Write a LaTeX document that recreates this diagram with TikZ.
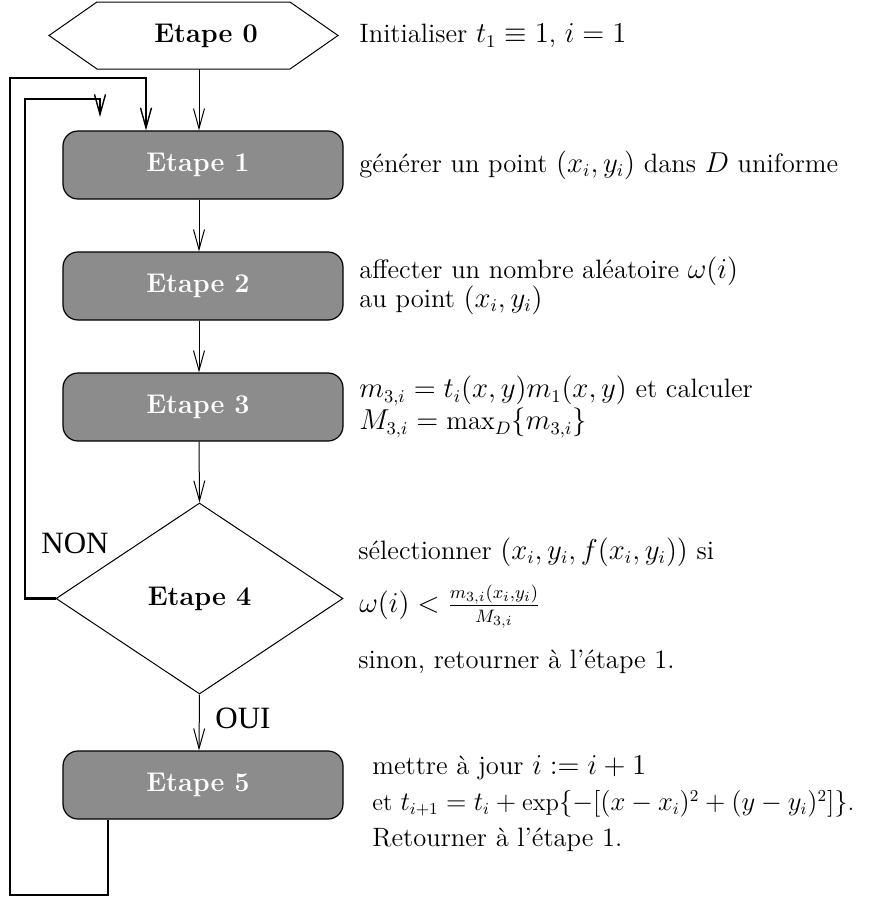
\documentclass[tikz,border=0pt]{standalone}
\usepackage{fontspec}
\usepackage{graphicx}
\newfontfamily\timesfont{Liberation Serif}
\usetikzlibrary{arrows.meta,shapes.geometric}
\definecolor{boxgray}{RGB}{140,140,140}
\begin{document}
\begin{tikzpicture}[x=0.5pt,y=-0.5pt,
  font=\fontsize{13.3}{16}\selectfont,
  arr/.style={-{Straight Barb[length=10pt,width=5.5pt,line width=0.5pt]}, line width=0.5pt},
  looparr/.style={-{Straight Barb[length=10pt,width=5.5pt,line width=0.7pt]}, line width=1.3pt},
  stepbox/.style={draw, line width=0.6pt, fill=boxgray, rounded corners=7.5pt,
    minimum width=140pt, minimum height=34pt, text=white,
    font=\fontsize{13.5}{16}\selectfont\bfseries},
  boldlab/.style={inner sep=0pt, font=\fontsize{13.5}{16}\selectfont\bfseries},
  desc/.style={anchor=west, inner sep=0pt},
  caplab/.style={inner sep=0pt, font=\timesfont\fontsize{15.5}{18}\selectfont},
]
\useasboundingbox (0,0) rectangle (877,901);
% Etape 0 hexagon
\coordinate (h0l) at (49,35.5);
\coordinate (h0tl) at (97,2);
\coordinate (h0tr) at (290,2);
\coordinate (h0r) at (338,35.5);
\coordinate (h0br) at (290,69);
\coordinate (h0bl) at (97,69);
\draw[line width=0.5pt] (h0l) -- (h0tl) -- (h0tr) -- (h0r) -- (h0br) -- (h0bl) -- cycle;
\node[boldlab] (e0) at (206,35.5) {Etape 0};
\coordinate (h0) at (199,69);
\coordinate (ax) at (199,0);
% boxes
\node[stepbox] (e1) at (203,165) {\hspace*{-5pt}Etape 1};
\node[stepbox] (e2) at (203,286) {\hspace*{-5pt}Etape 2};
\node[stepbox] (e3) at (203,407) {\hspace*{-5pt}Etape 3};
\node[draw, diamond, line width=0.5pt, minimum width=143.5pt, minimum height=95.5pt, inner sep=0pt,
  font=\fontsize{13.5}{16}\selectfont\bfseries] (e4) at (199.5,598.5) {Etape 4};
\node[stepbox] (e5) at (203,785) {\hspace*{-5pt}Etape 5};
% main arrows
\draw[arr] (h0) -- (e1.north -| h0);
\draw[arr] (e1.south -| ax) -- (e2.north -| ax);
\draw[arr] (e2.south -| ax) -- (e3.north -| ax);
\draw[arr] (e3.south -| ax) -- (e4.north);
\draw[arr] (e4.south) -- (e5.north -| ax);
\node[caplab] (oui) at (243,718) {OUI};
\node[caplab] (non) at (75,543) {NON};
% loops
\coordinate (x5) at (108,0);
\coordinate (x1) at (146,0);
\draw[looparr] (e5.south -| x5) -- (108,895) -- (10,895) -- (10,78) -- (146,78) -- (e1.north -| x1);
\coordinate (n1) at (100,117);
\draw[looparr] (e4.west) -- (25,598.5) -- (25,99) -- (100,99) -- (n1);
% descriptions
\node[desc] (d0) at (359,36) {Initialiser $t_1\equiv 1$, $i=1$};
\node[desc] (d1) at (359,165) {générer un point $(x_i,y_i)$ dans $D$ uniforme};
\node[desc] (d2a) at (359,271) {affecter un nombre aléatoire $\omega(i)$};
\node[desc] (d2b) at (359,300) {au point $(x_i,y_i)$};
\node[desc] (d3a) at (359,391) {$m_{3,i}=t_i(x,y)m_1(x,y)$ et calculer};
\node[desc] (d3b) at (359,423) {$M_{3,i}=\max_D\{m_{3,i}\}$};
\node[desc] (d4a) at (358,552) {sélectionner $(x_i,y_i,f(x_i,y_i))$ si};
\node[desc] (d4b) at (359,607) {$\omega(i)<\frac{m_{3,i}(x_i,y_i)}{M_{3,i}}$};
\node[desc] (d4c) at (358,662) {sinon, retourner à l'étape 1.};
\node[desc] (d5a) at (372,768) {mettre à jour $i:=i+1$};
\node[desc] (d5b) at (372,804) {\resizebox{241pt}{!}{et $t_{i+1}=t_i+\exp\{-[(x-x_i)^2+(y-y_i)^2]\}$.}};
\node[desc] (d5c) at (372,840) {Retourner à l'étape 1.};
\end{tikzpicture}
\end{document}
